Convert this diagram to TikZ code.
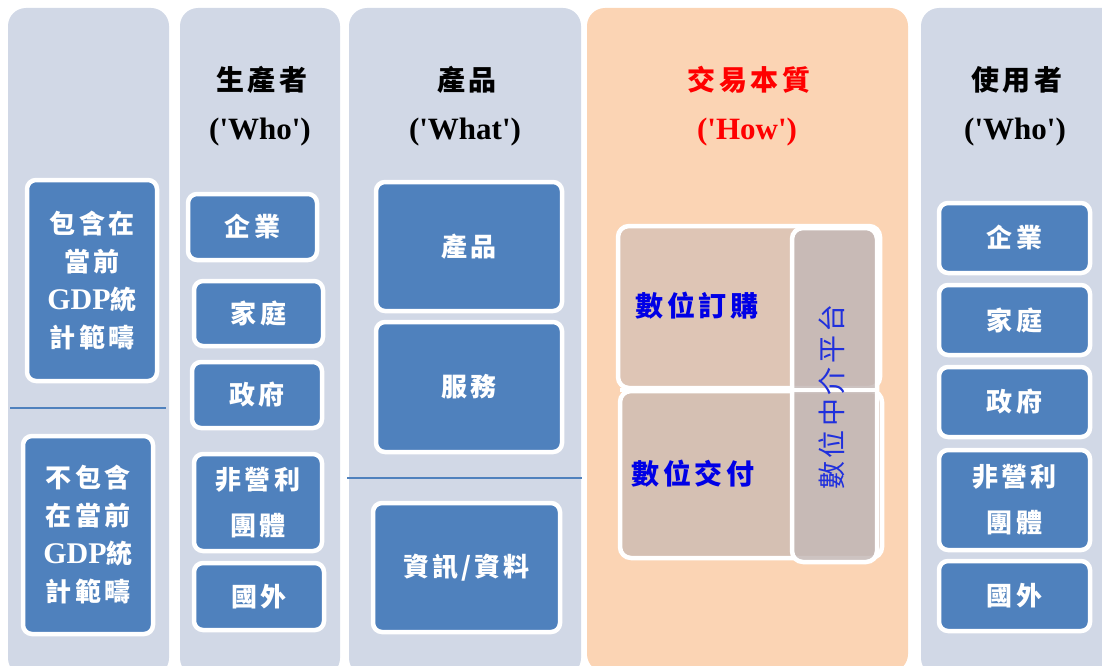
\documentclass[tikz,border=0pt]{standalone}
\usepackage{fontspec}
\setmainfont{Liberation Serif}
\newfontfamily\cjk[LetterSpace=12]{Noto Sans CJK TC}
\newfontfamily\latf{Liberation Serif}
\definecolor{panelc}{HTML}{D1D8E6}
\definecolor{howc}{HTML}{FBD4B4}
\definecolor{boxc}{HTML}{4F81BD}
\definecolor{ordc}{HTML}{DEC5B5}
\definecolor{delc}{HTML}{D5C0B3}
\definecolor{platc}{HTML}{C5B9B7}
\definecolor{bluet}{HTML}{0000E6}
\definecolor{bluev}{HTML}{2030DD}
\tikzset{
  panel/.style={fill=panelc, rounded corners=18pt, draw=none},
  bluebox/.style={fill=boxc, draw=white, line width=4.5pt, rounded corners=9pt, text=white,
    font=\cjk\bfseries\fontsize{26}{38}\selectfont, align=center, inner sep=0pt},
  tanbox/.style={draw=white, line width=4.5pt, rounded corners=11pt, inner sep=0pt},
  headc/.style={font=\cjk\bfseries\fontsize{28}{30}\selectfont, inner sep=0pt},
  headl/.style={font=\latf\bfseries\fontsize{31}{34}\selectfont, inner sep=0pt},
  sepline/.style={draw=boxc, line width=2.5pt},
}
\newcommand\mybox[7][]{\node[bluebox,#1,minimum width={#5pt-#3pt},minimum height={#6pt-#4pt}] (#2) at ({(#3+#5)/2},{(#4+#6)/2}) {#7};}
\newcommand\gdp{{\latf\bfseries\fontsize{30}{38}\selectfont GDP}}
\begin{document}
\begin{tikzpicture}[x=1pt,y=-1pt]
\useasboundingbox (0,0) rectangle (1102,666);
\clip (0,0) rectangle (1102,666);
% panels
\path[panel] (8,8) rectangle (169,676);
\path[panel] (180,8) rectangle (340,676);
\path[panel] (349,8) rectangle (581,676);
\path[panel,fill=howc] (587,8) rectangle (908,672);
\path[panel] (921,8) rectangle (1120,676);
% headings
\node[headc] (h2a) at (262,80) {生產者};
\node[headl] (h2b) at (260,132) {('Who')};
\node[headc] (h3a) at (467,80) {產品};
\node[headl] (h3b) at (465,132) {('What')};
\node[headc,text=red] (h4a) at (749,80) {交易本質};
\node[headl,text=red] (h4b) at (747,132) {('How')};
\node[headc] (h5a) at (1017,80) {使用者};
\node[headl] (h5b) at (1015,132) {('Who')};
% column 1
\mybox{incl}{27}{180}{157}{381}{包含在\\當前\\\gdp 統\\計範疇}
\draw[sepline] (10,408) coordinate (s1a) -- (166,408) coordinate (s1b);
\mybox{excl}{23}{436}{153}{634}{不包含\\在當前\\\gdp 統\\計範疇}
% column 2
\mybox{p1}{188}{194}{317}{260}{企業}
\mybox{p2}{194}{281}{323}{346}{家庭}
\mybox{p3}{192}{362}{322}{428}{政府}
\mybox[font=\cjk\bfseries\fontsize{26}{46}\selectfont]{p4}{194}{454}{322}{551}{非營利\\團體}
\mybox{p5}{194}{563}{324}{630}{國外}
% column 3
\mybox{w1}{376}{182}{562}{311}{產品}
\mybox{w2}{376}{322}{562}{452}{服務}
\draw[sepline] (347,478) coordinate (s3a) -- (582,478) coordinate (s3b);
\mybox{w3}{373}{503}{560}{632}{資訊/資料}
% column 4
\node[tanbox,fill=ordc,minimum width=262pt,minimum height=162pt] (ord) at (749,307) {};
\node[tanbox,fill=delc,minimum width=262pt,minimum height=167pt] (del) at (751,474.5) {};
\node[tanbox,fill=platc,fill opacity=0.85,draw opacity=1,minimum width=85pt,minimum height=334pt] (plat) at (834.5,395) {};
\draw[white,line width=4.5pt] (620,390) -- (878,390);
\node[font=\cjk\bfseries\fontsize{28}{30}\selectfont,text=bluet,inner sep=0pt] (ordt) at (697,306) {數位訂購};
\node[font=\cjk\bfseries\fontsize{28}{30}\selectfont,text=bluet,inner sep=0pt] (delt) at (693,474) {數位交付};
\node[font=\cjk\fontsize{28}{30}\selectfont,text=bluev,rotate=90,inner sep=0pt] (platt) at (832,397) {數位中介平台};
% column 5
\mybox{u1}{939}{203}{1090}{273}{企業}
\mybox{u2}{939}{285}{1090}{355}{家庭}
\mybox{u3}{939}{367}{1090}{437}{政府}
\mybox[font=\cjk\bfseries\fontsize{26}{46}\selectfont]{u4}{939}{450}{1090}{550}{非營利\\團體}
\mybox{u5}{939}{561}{1090}{631}{國外}
\end{tikzpicture}
\end{document}
